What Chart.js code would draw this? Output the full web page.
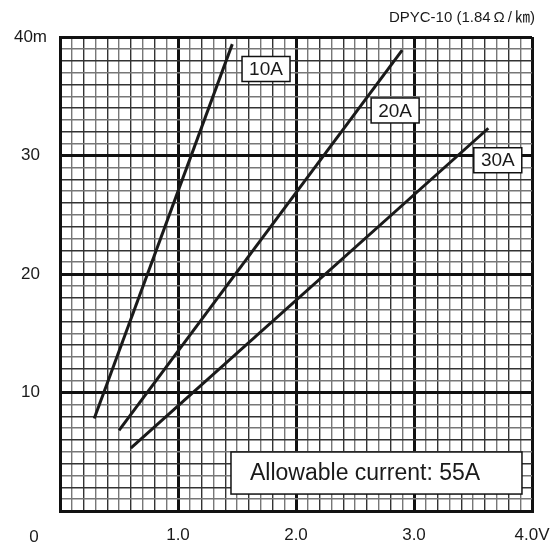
<!DOCTYPE html>
<html>
<head>
<meta charset="utf-8">
<script src="https://cdn.jsdelivr.net/npm/chart.js@4.4.0/dist/chart.umd.min.js"></script>
<style>
  html, body { margin: 0; padding: 0; background: #fff; }
</style>
</head>
<body>
<canvas id="dropChart" width="555" height="546"></canvas>
<script>
// Voltage drop (V) against cable length (m) for DPYC-10
const seriesNames = ['10A', '20A', '30A'];
const volts10 = [0.29, 1.46];
const metres10 = [7.8, 39.4];
const volts20 = [0.50, 2.90];
const metres20 = [6.8, 38.9];
const volts30 = [0.60, 3.63];
const metres30 = [5.3, 32.3];

// tick labels, one per major grid line
const xTickLabels = ['0', '1.0', '2.0', '3.0', '4.0V'];
const yTickLabels = ['0', '10', '20', '30', '40m'];

const titleText = 'DPYC-10 (1.84\u2009Ω\u2009/\u2009㎞)';
const noteText = 'Allowable current: 55A';

const FONT = '"Liberation Sans", Arial, "Noto Sans CJK JP", sans-serif';

function toPoints(xs, ys) {
    return xs.map((v, i) => ({ x: v, y: ys[i] }));
}

// grid helpers: thick lines on the majors, alternating tone on the minors
function xStep(v) { return Math.round(v * 10); }
function yStep(v) { return Math.round(v); }

function gridColour(step) {
    if (step % 10 === 0) return '#111';
    return step % 2 === 0 ? '#333' : '#777';
}
function gridWidth(step) {
    return step % 10 === 0 ? 3 : 1.4;
}

// boxed series labels + note + title
const annotations = {
    id: 'annotations',
    afterDraw(chart) {
        const { ctx, scales: { x, y } } = chart;
        ctx.save();

        // curve labels, placed in data units
        const anchors = [[1.746, 37.3], [2.84, 33.8], [3.71, 29.6]];
        ctx.font = '19px ' + FONT;
        ctx.textAlign = 'center';
        ctx.textBaseline = 'middle';
        seriesNames.forEach((name, i) => {
            const cx = x.getPixelForValue(anchors[i][0]);
            const cy = y.getPixelForValue(anchors[i][1]);
            ctx.fillStyle = '#fff';
            ctx.fillRect(cx - 24, cy - 12.5, 48, 25);
            ctx.strokeStyle = '#111';
            ctx.lineWidth = 1.5;
            ctx.strokeRect(cx - 24, cy - 12.5, 48, 25);
            ctx.fillStyle = '#1a1a1a';
            ctx.fillText(name, cx, cy + 1);
        });

        // allowable current box
        const bx1 = x.getPixelForValue(1.449), bx2 = x.getPixelForValue(3.915);
        const by1 = y.getPixelForValue(4.98), by2 = y.getPixelForValue(1.43);
        ctx.fillStyle = '#fff';
        ctx.fillRect(bx1, by1, bx2 - bx1, by2 - by1);
        ctx.strokeStyle = '#111';
        ctx.lineWidth = 1.5;
        ctx.strokeRect(bx1, by1, bx2 - bx1, by2 - by1);
        ctx.fillStyle = '#1a1a1a';
        ctx.font = '23px ' + FONT;
        ctx.textAlign = 'left';
        ctx.fillText(noteText, bx1 + 19, (by1 + by2) / 2 + 1);

        // corner zero and title
        ctx.font = '17px ' + FONT;
        ctx.textAlign = 'center';
        ctx.fillText(xTickLabels[0], 34, 537);
        ctx.font = '15px ' + FONT;
        ctx.textAlign = 'right';
        ctx.fillText(titleText, 535, 18);
        ctx.restore();
    }
};

const lineStyle = {
    borderColor: '#1a1a1a',
    borderWidth: 3,
    pointRadius: 0,
    fill: false,
    tension: 0
};

new Chart(document.getElementById('dropChart'), {
    type: 'line',
    data: {
        datasets: [
            { label: seriesNames[0], data: toPoints(volts10, metres10), ...lineStyle },
            { label: seriesNames[1], data: toPoints(volts20, metres20), ...lineStyle },
            { label: seriesNames[2], data: toPoints(volts30, metres30), ...lineStyle }
        ]
    },
    options: {
        responsive: false,
        animation: false,
        layout: { padding: { top: 37, right: 23, left: 0, bottom: 0 } },
        plugins: {
            legend: { display: false },
            tooltip: { enabled: false }
        },
        scales: {
            x: {
                type: 'linear',
                min: 0,
                max: 4,
                afterFit: (s) => { s.height = 35; s.paddingLeft = 0; s.paddingRight = 0; },
                ticks: {
                    stepSize: 0.1,
                    autoSkip: false,
                    maxRotation: 0,
                    padding: 14,
                    color: '#1a1a1a',
                    font: { family: FONT, size: 17 },
                    callback: (v) => {
                        const k = xStep(v);
                        return (k % 10 === 0 && k > 0) ? xTickLabels[k / 10] : '';
                    }
                },
                grid: {
                    drawTicks: false,
                    color: (c) => gridColour(xStep(c.tick ? c.tick.value : 0)),
                    lineWidth: (c) => gridWidth(xStep(c.tick ? c.tick.value : 0))
                },
                border: { color: '#111', width: 3 }
            },
            y: {
                min: 0,
                max: 40,
                afterFit: (s) => { s.width = 60; s.paddingTop = 0; s.paddingBottom = 0; },
                ticks: {
                    stepSize: 1,
                    autoSkip: false,
                    padding: 13,
                    crossAlign: 'center',
                    color: '#1a1a1a',
                    font: { family: FONT, size: 17 },
                    callback: (v) => {
                        const k = yStep(v);
                        return (k % 10 === 0 && k > 0) ? yTickLabels[k / 10] : '';
                    }
                },
                grid: {
                    drawTicks: false,
                    color: (c) => gridColour(yStep(c.tick ? c.tick.value : 0)),
                    lineWidth: (c) => gridWidth(yStep(c.tick ? c.tick.value : 0))
                },
                border: { color: '#111', width: 3 }
            }
        }
    },
    plugins: [annotations]
});
</script>
</body>
</html>
